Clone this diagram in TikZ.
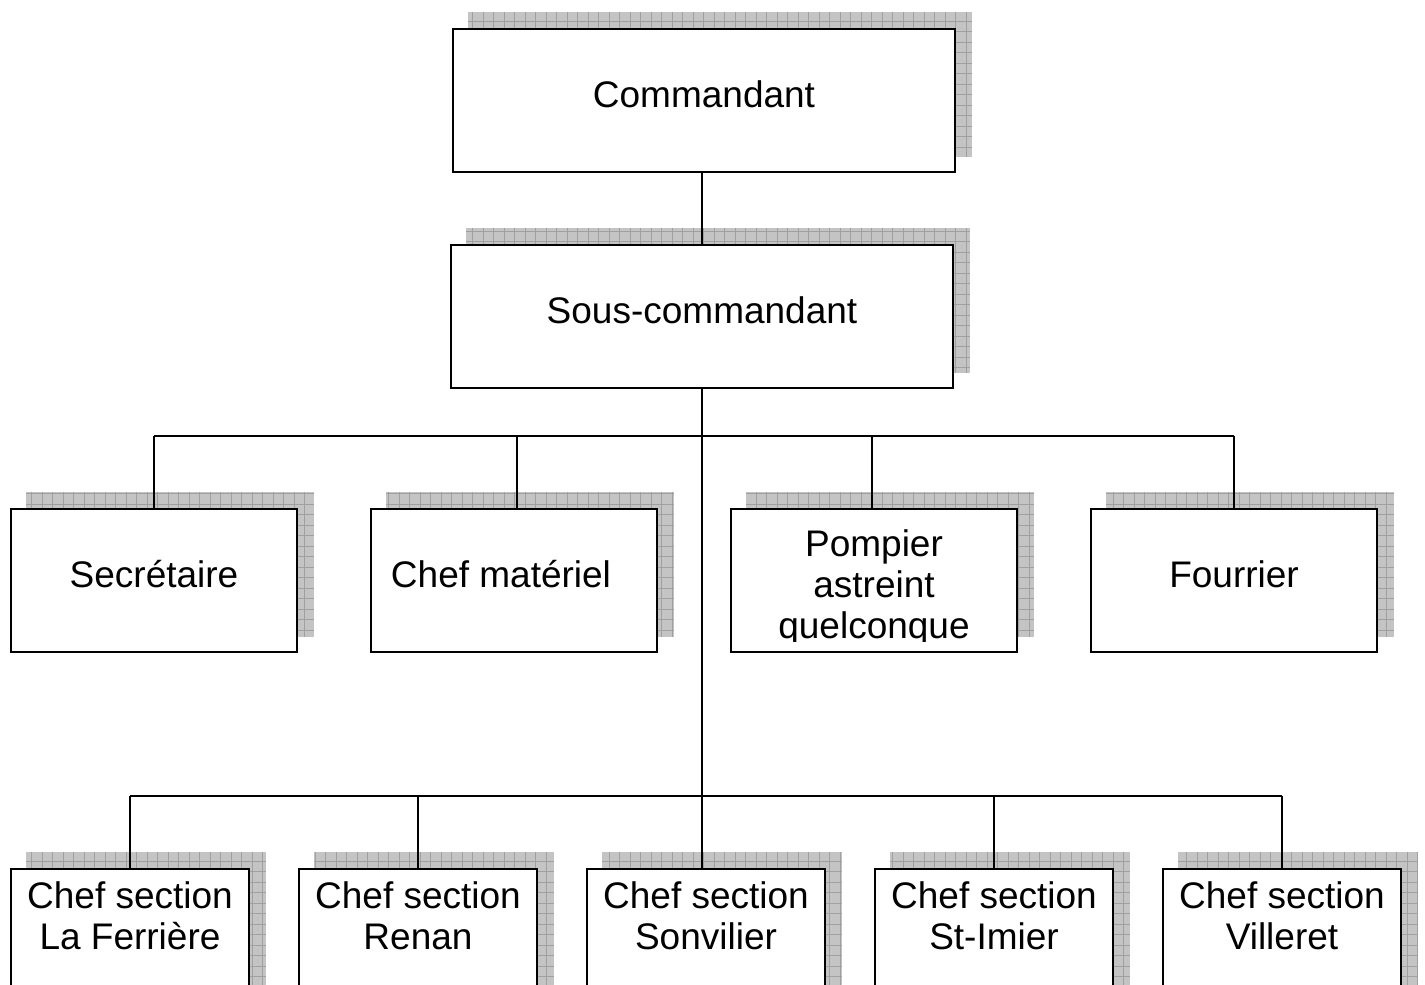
\documentclass[tikz,border=0pt]{standalone}
\usepackage{fontspec}
\setmainfont{Liberation Sans}
\usetikzlibrary{backgrounds}
\definecolor{shadowfill}{HTML}{C4C4C4}
\definecolor{shadowline}{HTML}{A0A0A0}
\tikzset{
  box/.style={draw, line width=2pt, fill=white, inner sep=0pt, align=center,
    font=\fontsize{37}{41}\selectfont},
  wide/.style={box, minimum width=502pt, minimum height=143pt},
  mid/.style={box, minimum width=286pt, minimum height=143pt},
  small/.style={box, minimum width=238pt, minimum height=143pt},
  single/.style={text height=27pt, text depth=13pt},
  boxtext/.style={inner sep=0pt, align=center, anchor=north,
    font=\fontsize{37}{41}\selectfont},
  link/.style={line width=2pt},
}
\begin{document}
\begin{tikzpicture}[x=1pt, y=-1pt]
      \useasboundingbox (0,0) rectangle (1425,985);
      \clip (0,0) rectangle (1425,985);
      \draw
        (704,100) node[wide, single] (cmd){Commandant}
        (702,316) node[wide, single] (sub){Sous-commandant}
        (154,580) node[mid, single] (sec){Secrétaire}
        (514,580) node[mid, single] (mat){Chef matériel\rule{26pt}{0pt}}
        (874,580) node[mid] (pom){}
        (1234,580) node[mid, single] (fou){Fourrier}
        (130,940) node[small] (lf){}
        (418,940) node[small] (ren){}
        (706,940) node[small] (son){}
        (994,940) node[small] (sti){}
        (1282,940) node[small] (vil){};
      \begin{scope}
        \clip ([shift={(0,-11)}]pom.south west) rectangle (pom.north east);
        \node[boxtext] (pomt) at ([shift={(0,22)}]pom.north) {Pompier\\astreint\\quelconque};
      \end{scope}
      \node[boxtext] (lft) at ([shift={(0,14)}]lf.north) {Chef section\\La Ferrière};
      \node[boxtext] (rent) at ([shift={(0,14)}]ren.north) {Chef section\\Renan};
      \node[boxtext] (sont) at ([shift={(0,14)}]son.north) {Chef section\\Sonvilier};
      \node[boxtext] (stit) at ([shift={(0,14)}]sti.north) {Chef section\\St-Imier};
      \node[boxtext] (vilt) at ([shift={(0,14)}]vil.north) {Chef section\\Villeret};
      \coordinate (bus1) at (702,436);
      \coordinate (bus2) at (702,796);
      \begin{scope}[on background layer]
        \foreach \n in {cmd,sub,sec,mat,pom,fou,lf,ren,son,sti,vil} {
          \begin{scope}
            \clip ([shift={(16,-16)}]\n.south west) rectangle ([shift={(16,-16)}]\n.north east);
            \fill[shadowfill] ([shift={(16,-16)}]\n.south west) rectangle ([shift={(16,-16)}]\n.north east);
            \draw[shadowline, line width=0.8pt, step=10.5pt]
              ([shift={(16,-16)}]\n.south west) grid ([shift={(16,-16)}]\n.north east);
          \end{scope}
        }
      \end{scope}
      \begin{scope}[link]
        \draw (cmd.south -| sub.north) to (sub.north);
        \draw (sub.south) to (sub.south |- son.north);
        \draw (sec.north |- bus1) to (fou.north |- bus1);
        \draw (sec.north) to (sec.north |- bus1);
        \draw ([xshift=3pt]mat.north) to ([xshift=3pt]mat.north |- bus1);
        \draw ([xshift=-2pt]pom.north) to ([xshift=-2pt]pom.north |- bus1);
        \draw (fou.north) to (fou.north |- bus1);
        \draw (lf.north |- bus2) to (vil.north |- bus2);
        \draw (lf.north) to (lf.north |- bus2);
        \draw (ren.north) to (ren.north |- bus2);
        \draw (sti.north) to (sti.north |- bus2);
        \draw (vil.north) to (vil.north |- bus2);
      \end{scope}
    \end{tikzpicture}
\end{document}
